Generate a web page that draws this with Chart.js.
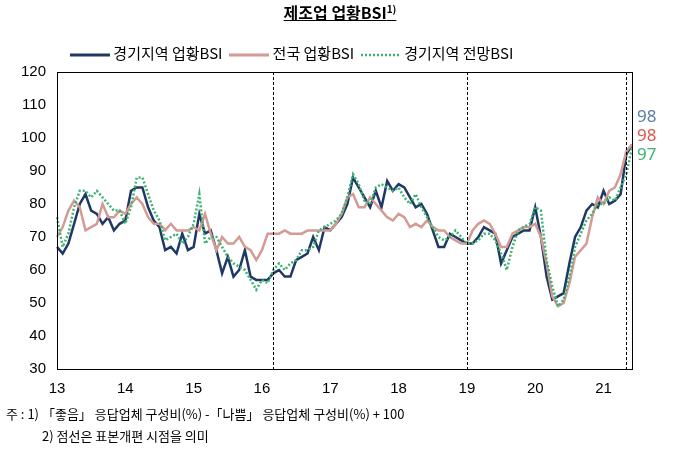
<!DOCTYPE html>
<html><head><meta charset="utf-8">
<script src="https://cdn.jsdelivr.net/npm/chart.js@4"></script>
<style>
body{margin:0;background:#fff;font-family:"Noto Sans CJK KR","Noto Sans",sans-serif;}
#wrap{position:relative;width:680px;height:454px;}
canvas{position:absolute;left:0;top:0;}
.t{position:absolute;white-space:nowrap;color:#000;}
</style></head><body>
<div id="wrap">
<canvas id="c" width="680" height="454"></canvas>
<div class="t" style="left:0;width:680px;text-align:center;top:0px;font-size:16px;font-weight:bold;"><span style="text-decoration:underline;">제조업 업황BSI<sup style="font-size:10px">1)</sup></span></div>
<div class="t" style="left:70px;top:42px;font-size:15px;">
<svg width="40" height="10" style="vertical-align:middle"><line x1="0" y1="5" x2="40" y2="5" stroke="#1F3864" stroke-width="3"/></svg> 경기지역 업황BSI
&nbsp;<svg width="40" height="10" style="vertical-align:middle"><line x1="0" y1="5" x2="40" y2="5" stroke="#D49A94" stroke-width="3"/></svg> 전국 업황BSI
&nbsp;<svg width="40" height="10" style="vertical-align:middle"><line x1="0" y1="5" x2="40" y2="5" stroke="#3CB371" stroke-width="2.5" stroke-dasharray="2,2"/></svg> 경기지역 전망BSI</div>
<div class="t" style="left:6px;top:404px;font-size:13px;">주 : 1) 「좋음」 응답업체 구성비(%) -「나쁨」 응답업체 구성비(%) + 100</div>
<div class="t" style="left:42px;top:426px;font-size:13px;">2) 점선은 표본개편 시점을 의미</div>
</div>
<script>
const years=['13','14','15','16','17','18','19','20','21'];
const gyeonggi=[67,65,68,74,80,83,78,77,74,76,72,74,
75,84,85,85,79,75,73,66,67,65,71,66,
67,77,71,72,66,59,64,58,60,66,58,57,
57,57,59,60,58,58,63,64,65,70,66,73,
72,74,76,80,88,85,82,79,84,79,87,84,
86,85,82,79,80,77,72,67,67,71,70,69,
68,68,70,73,72,71,62,66,70,71,72,72,
79,70,58,51,52,53,62,70,73,78,80,79,
84,80,81,83,95,98];
const national=[70,73,78,81,79,72,73,74,80,76,76,78,
77,80,82,80,76,74,74,72,74,72,72,72,
73,72,77,71,66,70,68,68,70,67,66,63,
66,71,71,71,72,71,71,71,72,72,72,72,
72,74,77,82,83,79,79,82,80,78,76,75,
77,76,73,74,73,75,73,72,72,70,69,68,
68,72,74,75,74,71,67,67,71,72,73,73,
74,70,62,52,49,50,56,64,66,68,76,82,
80,84,85,89,96,98];
const outlook=[76,67,71,79,84,84,82,84,82,80,78,78,
74,79,88,88,83,78,75,69,70,71,68,70,
74,83,68,70,70,67,64,62,61,60,57,54,
57,56,60,62,60,62,63,66,66,67,72,73,
74,75,77,82,89,86,81,80,85,86,85,84,
85,82,80,83,79,76,73,70,69,70,72,70,
68,68,69,71,71,69,65,60,67,72,73,74,
79,78,63,55,49,51,58,67,71,75,77,80,
80,82,81,85,89,97];
const breaks=[38,72,100];
const endLabels=[['98','#5B7BA8'],['98','#E0554F'],['97','#3CB371']];
const labels=gyeonggi.map((_,i)=>i%12===0?years[i/12]:'');
const plug={id:'p',afterDatasetsDraw(ch){const {ctx,scales:{x,y},chartArea:a}=ch;ctx.save();
ctx.strokeStyle='#000';ctx.lineWidth=1;ctx.setLineDash([3,2]);
breaks.forEach(b=>{const px=Math.round(x.getPixelForValue(b))+0.5;ctx.beginPath();ctx.moveTo(px,a.top);ctx.lineTo(px,a.bottom);ctx.stroke();});
ctx.setLineDash([]);ctx.strokeRect(a.left+0.5,a.top+0.5,a.right-a.left,a.bottom-a.top);
ctx.font='17px "Noto Sans","DejaVu Sans",sans-serif';ctx.textBaseline='middle';
endLabels.forEach((e,i)=>{ctx.fillStyle=e[1];ctx.fillText(e[0],a.right+5,117+i*19);});
ctx.restore();}};
new Chart(document.getElementById('c'),{type:'line',
data:{labels,datasets:[
{data:outlook,borderColor:'#3CB371',borderWidth:2.5,borderDash:[2,2],pointRadius:0,tension:0},
{data:national,borderColor:'#D49A94',borderWidth:2.5,pointRadius:0,tension:0},
{data:gyeonggi,borderColor:'#1F3864',borderWidth:2.5,pointRadius:0,tension:0}]},
options:{responsive:false,animation:false,
layout:{padding:{top:72,right:48,bottom:53,left:0}},
plugins:{legend:{display:false},tooltip:{enabled:false}},
scales:{x:{offset:false,grid:{display:false,drawTicks:true},border:{display:false},
ticks:{autoSkip:false,maxRotation:0,color:'#000',font:{size:15},callback:(v,i)=>labels[i]}},
y:{min:30,max:120,afterFit:s=>{s.width=57;},grid:{display:false},border:{display:false},
ticks:{stepSize:10,color:'#000',font:{size:15}}}}},
plugins:[plug]});
</script></body></html>
